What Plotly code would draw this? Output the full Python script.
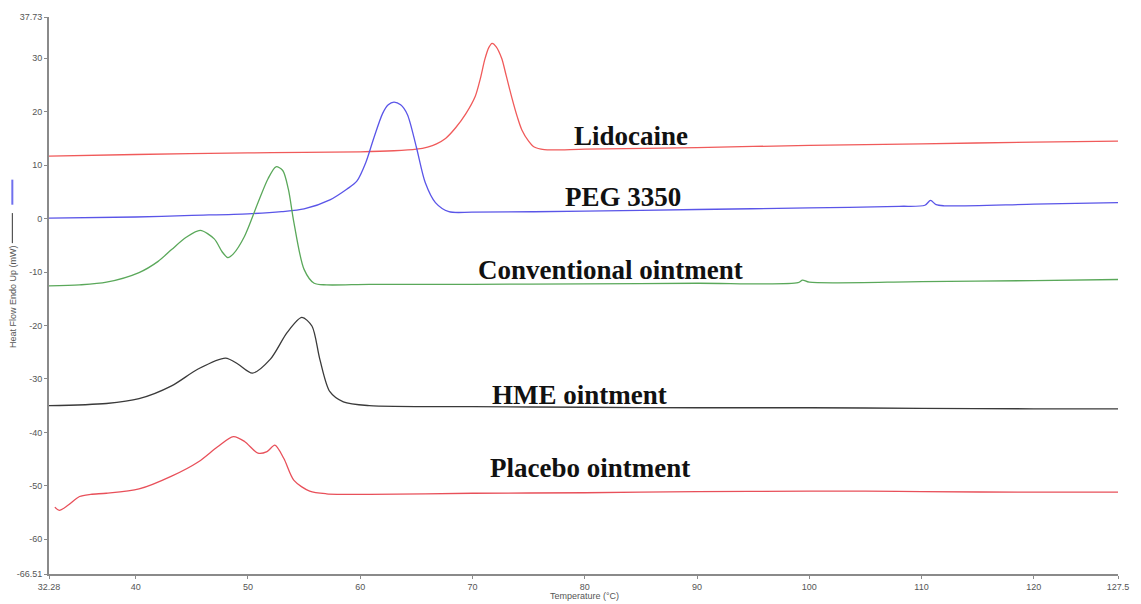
import plotly.graph_objects as go

# ---- data ----
lido_x = [32.28, 40, 50, 55, 60, 63, 65, 66.0, 66.8, 67.6, 68.5, 69.4, 70.25, 70.7, 71.1, 71.45, 71.75, 72.1, 72.6, 73.0, 73.5, 74.0, 74.4, 75.0, 75.5, 76.4, 80, 90, 100, 110, 120, 127.5]
lido_y = [11.7, 12.0, 12.3, 12.4, 12.5, 12.7, 13.0, 13.4, 14.0, 15.0, 17.0, 19.6, 22.9, 26.2, 29.8, 32.0, 32.8, 32.2, 30.0, 26.8, 22.7, 19.0, 16.6, 14.5, 13.4, 12.9, 13.0, 13.3, 13.7, 14.0, 14.3, 14.5]

peg_x = [32.28, 40, 45, 50, 53, 55, 57.3, 58.8, 59.7, 60.5, 61.2, 62.0, 62.5, 63.0, 63.6, 64.2, 65.0, 65.8, 66.7, 67.9, 70, 80, 90, 100, 108, 110.3, 110.8, 111.3, 112, 120, 127.5]
peg_y = [0.1, 0.3, 0.6, 0.9, 1.3, 1.8, 3.5, 5.5, 7.0, 10.5, 15.0, 19.7, 21.3, 21.8, 21.3, 19.5, 13.4, 6.7, 3.0, 1.3, 1.2, 1.4, 1.7, 2.0, 2.3, 2.5, 3.4, 2.6, 2.4, 2.7, 3.0]

conv_x = [32.28, 35, 37.4, 40.3, 42, 43.2, 44.5, 45.75, 47.0, 47.7, 48.2, 48.7, 49.7, 50.9, 51.8, 52.5, 53.1, 53.6, 54.1, 55.0, 55.9, 57, 60.8, 70, 80, 90, 99, 99.4, 100, 110, 120, 127.5]
conv_y = [-12.6, -12.4, -11.9, -10.1, -8.0, -5.8, -3.5, -2.2, -3.8, -6.2, -7.3, -6.6, -3.3, 3.0, 7.5, 9.7, 9.0, 5.5, -0.8, -9.5, -12.1, -12.4, -12.3, -12.3, -12.2, -12.1, -12.0, -11.5, -11.9, -11.8, -11.6, -11.4]

hme_x = [32.28, 37.4, 40.3, 43.2, 45.6, 48.0, 49.1, 50.4, 52.0, 53.5, 54.8, 55.7, 56.4, 57.3, 58.5, 60.8, 70, 80, 90, 100, 110, 120, 127.5]
hme_y = [-35.0, -34.6, -33.7, -31.3, -28.1, -26.1, -27.2, -28.9, -26.3, -21.3, -18.5, -20.1, -26.3, -32.4, -34.3, -35.0, -35.2, -35.3, -35.4, -35.4, -35.5, -35.6, -35.6]

plac_x = [32.8, 33.2, 34, 35, 36, 37.4, 40.3, 43.2, 45.6, 47.3, 48.7, 49.7, 50.9, 51.7, 52.4, 53.2, 54.1, 55.5, 57, 60.8, 70, 80, 90, 100, 105, 110, 120, 127.5]
plac_y = [-54.0, -54.6, -53.6, -52.0, -51.6, -51.4, -50.6, -48.2, -45.5, -42.7, -40.8, -41.7, -43.9, -43.6, -42.4, -44.9, -49.0, -51.0, -51.5, -51.6, -51.4, -51.3, -51.1, -51.0, -51.0, -51.1, -51.2, -51.2]

labels = ["Lidocaine", "PEG 3350", "Conventional ointment", "HME ointment", "Placebo ointment"]
label_x = [84.1, 83.4, 82.3, 79.5, 80.5]
label_y = [15.5, 4.1, -9.7, -33.1, -46.7]

x_tickvals = [32.28, 40, 50, 60, 70, 80, 90, 100, 110, 120, 127.5]
x_ticktext = ["32.28", "40", "50", "60", "70", "80", "90", "100", "110", "120", "127.5"]
y_tickvals = [37.73, 30, 20, 10, 0, -10, -20, -30, -40, -50, -60, -66.51]
y_ticktext = ["37.73", "30", "20", "10", "0", "-10", "-20", "-30", "-40", "-50", "-60", "-66.51"]

series = [
    (lido_x, lido_y, "#f05a5a"),
    (peg_x, peg_y, "#5a55e8"),
    (conv_x, conv_y, "#5aa85a"),
    (hme_x, hme_y, "#3a3a3a"),
    (plac_x, plac_y, "#e8505a"),
]

fig = go.Figure()
for xs, ys, col in series:
    fig.add_trace(go.Scatter(x=xs, y=ys, mode="lines",
                             line=dict(color=col, width=1.3, shape="spline", smoothing=0.8),
                             showlegend=False, hoverinfo="skip"))

for t, lx, ly in zip(labels, label_x, label_y):
    fig.add_annotation(x=lx, y=ly, xref="x", yref="y", text="<b>" + t + "</b>",
                       showarrow=False, xanchor="center", yanchor="middle",
                       font=dict(family="Liberation Serif", size=27, color="#111111"))

axis_font = dict(family="Liberation Sans", size=9, color="#555555")

fig.update_xaxes(range=[32.28, 127.5], tickvals=x_tickvals, ticktext=x_ticktext,
                 showgrid=False, zeroline=False, showline=True, linecolor="#8a8a8a",
                 linewidth=2, ticks="outside", ticklen=3, tickcolor="#8a8a8a",
                 tickfont=axis_font)
fig.update_yaxes(range=[-66.51, 37.73], tickvals=y_tickvals, ticktext=y_ticktext,
                 showgrid=False, zeroline=False, showline=True, linecolor="#8a8a8a",
                 linewidth=2, ticks="outside", ticklen=3, tickcolor="#8a8a8a",
                 tickfont=axis_font)

# axis titles
fig.add_annotation(x=0.501, y=-0.04, xref="paper", yref="paper", text="Temperature (°C)",
                   showarrow=False, xanchor="center", yanchor="middle",
                   font=dict(family="Liberation Sans", size=9, color="#555555"))
fig.add_annotation(x=-0.0343, y=0.498, xref="paper", yref="paper", text="Heat Flow Endo Up (mW)",
                   showarrow=False, textangle=-90, xanchor="center", yanchor="middle",
                   font=dict(family="Liberation Sans", size=9, color="#555555"))
# small legend marks next to the y title
fig.add_shape(type="line", xref="paper", yref="paper", x0=-0.0343, x1=-0.0343, y0=0.663, y1=0.708,
              line=dict(color="#7070ee", width=2))
fig.add_shape(type="line", xref="paper", yref="paper", x0=-0.0343, x1=-0.0343, y0=0.594, y1=0.648,
              line=dict(color="#333333", width=1))

fig.update_layout(width=1141, height=604, margin=dict(l=49, r=13, t=17, b=29),
                  paper_bgcolor="white", plot_bgcolor="white")

fig.write_html("out.html")
